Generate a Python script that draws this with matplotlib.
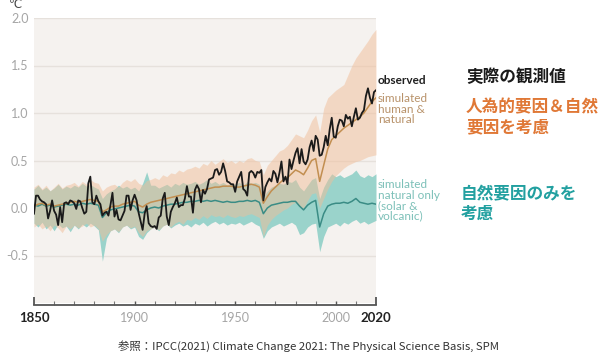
import matplotlib
matplotlib.use('Agg')
import matplotlib.pyplot as plt
import numpy as np

# observed global surface temperature change vs 1850-1900 (annual)
obs_years = list(range(1850, 2021))
observed = [
    -0.06, 0.13, 0.13, 0.09, 0.07, 0.06, 0.04, -0.11, -0.03, 0.08,
    -0.03, -0.07, -0.18, 0.01, -0.15, 0.05, 0.06, 0.04, 0.08, 0.07,
    0.05, -0.01, 0.08, 0.07, 0.00, -0.06, -0.04, 0.26, 0.33, 0.06,
    0.04, 0.13, 0.07, 0.04, -0.08, -0.05, -0.04, -0.08, 0.03, 0.16,
    -0.09, -0.02, -0.12, -0.13, -0.08, -0.03, 0.13, 0.13, -0.02, 0.08,
    0.14, 0.08, -0.05, -0.14, -0.23, -0.06, 0.02, -0.16, -0.19, -0.20,
    -0.19, -0.22, -0.10, -0.08, 0.10, 0.16, -0.09, -0.18, -0.04, 0.01,
    0.05, 0.11, 0.01, 0.03, 0.03, 0.10, 0.23, 0.12, 0.12, -0.05,
    0.19, 0.24, 0.20, 0.06, 0.19, 0.15, 0.20, 0.30, 0.31, 0.32,
    0.40, 0.41, 0.35, 0.38, 0.47, 0.39, 0.28, 0.27, 0.25, 0.25,
    0.17, 0.28, 0.33, 0.38, 0.20, 0.18, 0.13, 0.37, 0.39, 0.37,
    0.32, 0.38, 0.37, 0.40, 0.08, 0.22, 0.27, 0.31, 0.28, 0.39,
    0.36, 0.27, 0.37, 0.49, 0.28, 0.33, 0.25, 0.51, 0.41, 0.50,
    0.58, 0.63, 0.47, 0.62, 0.49, 0.46, 0.51, 0.64, 0.71, 0.60,
    0.76, 0.72, 0.55, 0.56, 0.64, 0.76, 0.66, 0.83, 0.95, 0.75,
    0.74, 0.86, 0.93, 0.92, 0.86, 0.98, 0.94, 0.96, 0.86, 0.96,
    1.05, 0.93, 0.95, 1.00, 1.03, 1.18, 1.26, 1.16, 1.10, 1.22,
    1.24,
]

# model ensembles, every second year
sim_years = list(range(1850, 2021, 2))

human_mean = [
    0.02, 0.04, 0.05, 0.03, 0.04, 0.02, 0.03, 0.04, 0.05, 0.06,
    0.07, 0.06, 0.07, 0.08, 0.09, 0.08, 0.07, -0.04, -0.02, 0.01,
    0.02, 0.02, 0.04, 0.05, 0.06, 0.07, 0.03, 0.01, 0.04, 0.06,
    0.07, 0.08, 0.09, 0.10, 0.11, 0.12, 0.13, 0.14, 0.15, 0.16,
    0.17, 0.18, 0.19, 0.20, 0.21, 0.22, 0.22, 0.23, 0.23, 0.23,
    0.22, 0.22, 0.23, 0.24, 0.25, 0.24, 0.22, 0.05, 0.12, 0.18,
    0.22, 0.26, 0.30, 0.32, 0.36, 0.40, 0.38, 0.35, 0.42, 0.50,
    0.52, 0.28, 0.45, 0.62, 0.72, 0.76, 0.80, 0.84, 0.87, 0.90,
    0.93, 0.96, 1.00, 1.06, 1.12, 1.16,
]
human_hi = [
    0.22, 0.25, 0.20, 0.24, 0.18, 0.22, 0.26, 0.21, 0.24, 0.25,
    0.27, 0.23, 0.28, 0.25, 0.30, 0.27, 0.26, 0.18, 0.22, 0.24,
    0.25, 0.22, 0.27, 0.30, 0.28, 0.31, 0.26, 0.24, 0.29, 0.30,
    0.32, 0.30, 0.35, 0.33, 0.37, 0.36, 0.40, 0.38, 0.41, 0.42,
    0.44, 0.42, 0.47, 0.45, 0.50, 0.46, 0.49, 0.52, 0.48, 0.50,
    0.47, 0.50, 0.48, 0.52, 0.53, 0.50, 0.49, 0.35, 0.45, 0.50,
    0.55, 0.60, 0.62, 0.66, 0.72, 0.78, 0.76, 0.74, 0.82, 0.92,
    0.98, 0.80, 1.05, 1.16, 1.20, 1.24, 1.27, 1.30, 1.40, 1.50,
    1.58, 1.64, 1.70, 1.76, 1.83, 1.88,
]
human_lo = [
    -0.20, -0.17, -0.22, -0.19, -0.24, -0.18, -0.21, -0.26, -0.19, -0.22,
    -0.18, -0.21, -0.19, -0.16, -0.20, -0.18, -0.22, -0.35, -0.28, -0.24,
    -0.22, -0.25, -0.20, -0.18, -0.21, -0.19, -0.26, -0.30, -0.24, -0.22,
    -0.20, -0.23, -0.19, -0.17, -0.20, -0.16, -0.14, -0.17, -0.12, -0.13,
    -0.10, -0.12, -0.08, -0.11, -0.07, -0.09, -0.08, -0.10, -0.07, -0.09,
    -0.10, -0.08, -0.09, -0.07, -0.06, -0.08, -0.10, -0.30, -0.18, -0.12,
    -0.08, -0.05, -0.02, 0.00, 0.04, 0.06, 0.02, 0.00, 0.08, 0.15,
    0.16, 0.00, 0.10, 0.20, 0.28, 0.34, 0.38, 0.42, 0.45, 0.47,
    0.49, 0.50, 0.52, 0.54, 0.55, 0.56,
]

natural_mean = [
    0.03, 0.02, 0.04, 0.02, 0.03, 0.01, 0.02, 0.03, 0.04, 0.03,
    0.04, 0.03, 0.05, 0.04, 0.05, 0.04, 0.03, -0.10, -0.05, -0.02,
    -0.01, 0.00, 0.01, 0.02, 0.03, 0.02, -0.04, -0.05, -0.02, 0.00,
    0.01, 0.00, 0.02, 0.03, 0.04, 0.04, 0.05, 0.06, 0.06, 0.07,
    0.07, 0.08, 0.07, 0.08, 0.07, 0.08, 0.07, 0.06, 0.07, 0.06,
    0.06, 0.07, 0.07, 0.08, 0.07, 0.08, 0.06, -0.06, 0.00, 0.03,
    0.04, 0.05, 0.06, 0.06, 0.07, 0.07, 0.02, -0.02, 0.03, 0.06,
    0.08, -0.20, -0.06, 0.02, 0.04, 0.05, 0.05, 0.06, 0.05, 0.07,
    0.10, 0.06, 0.05, 0.04, 0.05, 0.04,
]
natural_hi = [
    0.20, 0.24, 0.19, 0.22, 0.18, 0.21, 0.25, 0.20, 0.23, 0.21,
    0.24, 0.22, 0.26, 0.23, 0.25, 0.22, 0.20, 0.10, 0.15, 0.18,
    0.20, 0.24, 0.21, 0.23, 0.20, 0.22, 0.18, 0.26, 0.38, 0.24,
    0.24, 0.21, 0.23, 0.25, 0.22, 0.26, 0.24, 0.27, 0.25, 0.26,
    0.28, 0.25, 0.27, 0.30, 0.26, 0.28, 0.25, 0.27, 0.24, 0.26,
    0.25, 0.27, 0.24, 0.28, 0.26, 0.27, 0.25, 0.12, 0.18, 0.22,
    0.24, 0.26, 0.25, 0.28, 0.27, 0.30, 0.22, 0.18, 0.24, 0.30,
    0.32, 0.10, 0.22, 0.30, 0.36, 0.33, 0.35, 0.32, 0.34, 0.36,
    0.40, 0.34, 0.32, 0.35, 0.33, 0.36,
]
natural_lo = [
    -0.16, -0.20, -0.15, -0.22, -0.18, -0.24, -0.17, -0.21, -0.19, -0.25,
    -0.18, -0.22, -0.17, -0.20, -0.16, -0.19, -0.23, -0.56, -0.32, -0.24,
    -0.22, -0.26, -0.20, -0.18, -0.22, -0.20, -0.30, -0.33, -0.26, -0.22,
    -0.20, -0.24, -0.19, -0.17, -0.21, -0.18, -0.16, -0.19, -0.17, -0.20,
    -0.16, -0.18, -0.15, -0.19, -0.16, -0.14, -0.17, -0.15, -0.18, -0.16,
    -0.17, -0.15, -0.18, -0.16, -0.14, -0.17, -0.19, -0.32, -0.24, -0.20,
    -0.18, -0.16, -0.19, -0.17, -0.15, -0.18, -0.28, -0.26, -0.20, -0.17,
    -0.16, -0.46, -0.30, -0.20, -0.18, -0.16, -0.19, -0.15, -0.17, -0.14,
    -0.12, -0.16, -0.14, -0.17, -0.15, -0.13,
]

x_ticks = [1850, 1900, 1950, 2000, 2020]
y_ticks = [-0.5, 0.0, 0.5, 1.0, 1.5, 2.0]

LATIN = ['Lato', 'DejaVu Sans']
CJK = ['Noto Sans CJK JP', 'DejaVu Sans']

BG = '#f5f2ef'
TAN_BAND = '#f1be99'
TEAL_BAND = '#9ad3cb'
TAN_LINE = '#c28e50'
TEAL_LINE = '#3a8c85'

fig = plt.figure(figsize=(6.0, 3.53), dpi=100)
ax = fig.add_axes([34 / 600, 1 - 303 / 353, 342 / 600, 285 / 353])
ax.set_facecolor(BG)

# teal band solid underneath, tan band half-transparent over it
ax.fill_between(sim_years, natural_lo, natural_hi, color=TEAL_BAND,
                lw=0, zorder=2)
ax.fill_between(sim_years, human_lo, human_hi, color=TAN_BAND, alpha=0.5,
                lw=0, zorder=2)
ax.plot(sim_years, natural_mean, color=TEAL_LINE, lw=1.1, zorder=3)
ax.plot(sim_years, human_mean, color=TAN_LINE, lw=1.1, zorder=3)
ax.plot(obs_years, observed, color='#1a1a1a', lw=1.3, zorder=4)

ax.set_xlim(1850, 2020)
ax.set_ylim(-1.0, 2.0)

for s in ['top', 'right', 'left']:
    ax.spines[s].set_visible(False)
ax.spines['bottom'].set_position(('outward', 1.5))
ax.spines['bottom'].set_color('#555555')
ax.spines['bottom'].set_linewidth(1.3)

# horizontal grid
ax.set_yticks(y_ticks)
ax.set_yticklabels(['%.1f' % v for v in y_ticks])
ax.yaxis.grid(True, color='#e6e1dc', lw=1.0, zorder=0)
ax.set_axisbelow(True)
ax.tick_params(axis='y', length=0, pad=4, labelsize=9, labelcolor='#a5a5a5')
for lab in ax.get_yticklabels():
    lab.set_family(LATIN)

ax.set_xticks(x_ticks)
ax.set_xticks(range(1850, 2021, 10), minor=True)
ax.set_xticklabels([str(y) for y in x_ticks])
ax.tick_params(axis='x', which='major', direction='in', length=3,
               width=1.0, color='#555555', pad=5, labelsize=9)
ax.tick_params(axis='x', which='minor', direction='in', length=3,
               width=0.8, color='#777777')
for i, lab in enumerate(ax.get_xticklabels()):
    lab.set_family(LATIN)
    if x_ticks[i] in (1850, 2020):
        lab.set_fontweight('bold')
        lab.set_color('#222222')
        lab.set_fontsize(9.5)
    else:
        lab.set_color('#a5a5a5')
for i, t in enumerate(ax.xaxis.get_major_ticks()):
    if x_ticks[i] in (1850, 2020):
        t.tick1line.set_markersize(6)
        t.tick1line.set_markeredgewidth(1.3)

# unit
fig.text(9 / 600, 1 - 5 / 353, '℃', fontsize=8.5, color='#444444',
         va='center', ha='left', family=['DejaVu Sans'])

# series labels
def fpx(x, y):
    return x / 600, 1 - y / 353

fig.text(*fpx(378, 81), 'observed', fontsize=8.5, fontweight='bold',
         color='#1f1f1f', va='center', family=LATIN)
fig.text(*fpx(378, 93), 'simulated\nhuman &\nnatural', fontsize=8.5,
         color='#b8926a', va='top', linespacing=0.95, family=LATIN)
fig.text(*fpx(378, 179), 'simulated\nnatural only\n(solar &\nvolcanic)',
         fontsize=8.5, color='#7cc0b8', va='top', linespacing=0.95,
         family=LATIN)

fig.text(*fpx(466, 77), '実際の観測値', fontsize=12, fontweight='bold',
         color='#1a1a1a', va='center', family=CJK)
fig.text(*fpx(466, 117), '人為的要因＆自然\n要因を考慮', fontsize=12,
         fontweight='bold', color='#e07836', va='center', linespacing=1.12,
         family=CJK)
fig.text(*fpx(461, 204), '自然要因のみを\n考慮', fontsize=12,
         fontweight='bold', color='#22a0a0', va='center', linespacing=1.12,
         family=CJK)

fig.text(*fpx(308, 346), '参照：IPCC(2021) Climate Change 2021: The Physical Science Basis, SPM',
         fontsize=8.2, color='#333333', ha='center', va='center', family=CJK)

fig.savefig('out.png', dpi=100, facecolor='white')
